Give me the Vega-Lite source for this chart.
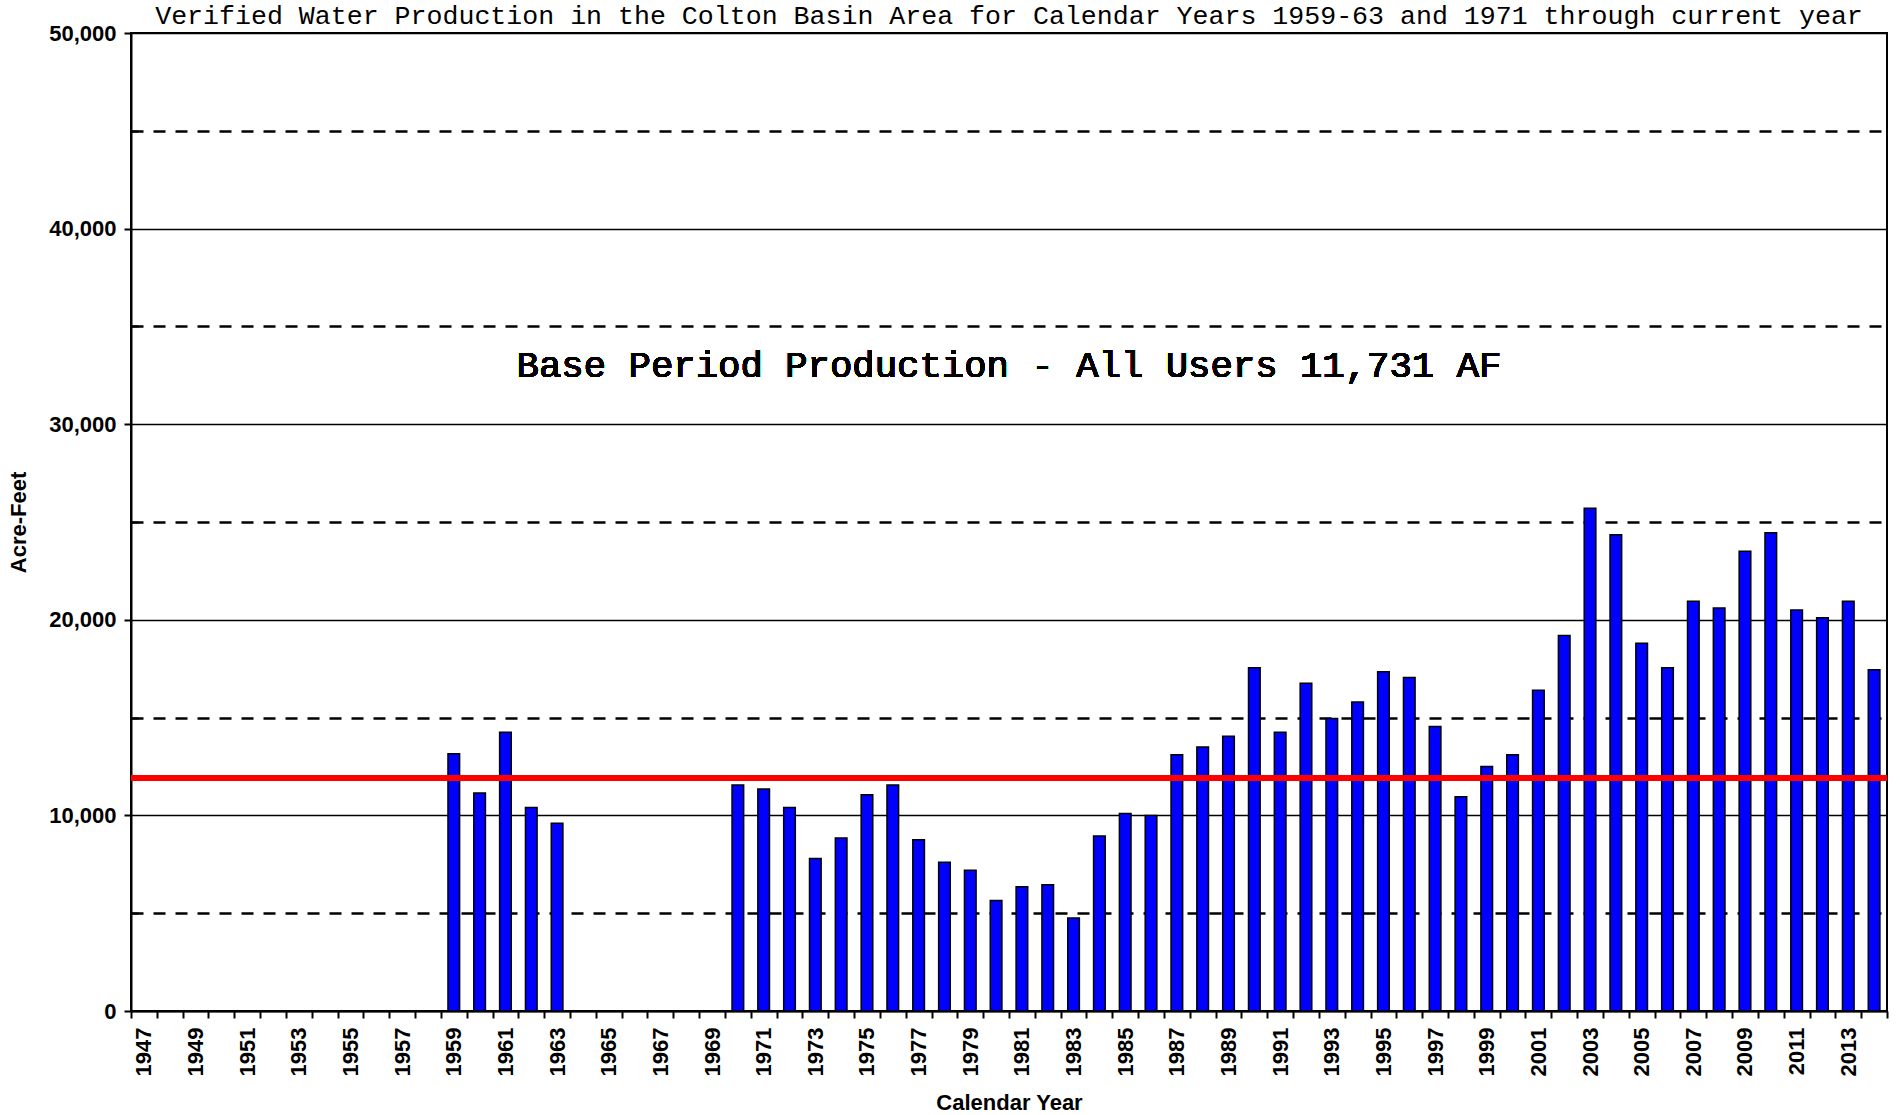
{
  "$schema": "https://vega.github.io/schema/vega-lite/v6.json",
  "autosize": {"type": "none"},
  "width": 1756,
  "height": 978,
  "padding": {"left": 131, "top": 33, "right": 13, "bottom": 104},
  "background": "white",
  "title": {
    "text": "Verified Water Production in the Colton Basin Area for Calendar Years 1959-63 and 1971 through current year",
    "font": "Liberation Mono",
    "fontSize": 26.6,
    "fontWeight": "normal",
    "color": "black",
    "anchor": "middle",
    "baseline": "alphabetic",
    "offset": 0,
    "dy": 29
  },
  "data": {
    "values": [
      {"year": 1959, "af": 13150}, {"year": 1960, "af": 11150}, {"year": 1961, "af": 14250},
      {"year": 1962, "af": 10400}, {"year": 1963, "af": 9600},
      {"year": 1970, "af": 11550}, {"year": 1971, "af": 11350}, {"year": 1972, "af": 10400},
      {"year": 1973, "af": 7800}, {"year": 1974, "af": 8850}, {"year": 1975, "af": 11050},
      {"year": 1976, "af": 11550}, {"year": 1977, "af": 8750}, {"year": 1978, "af": 7600},
      {"year": 1979, "af": 7200}, {"year": 1980, "af": 5650}, {"year": 1981, "af": 6350},
      {"year": 1982, "af": 6450}, {"year": 1983, "af": 4750}, {"year": 1984, "af": 8950},
      {"year": 1985, "af": 10100}, {"year": 1986, "af": 10000}, {"year": 1987, "af": 13100},
      {"year": 1988, "af": 13500}, {"year": 1989, "af": 14050}, {"year": 1990, "af": 17550},
      {"year": 1991, "af": 14250}, {"year": 1992, "af": 16750}, {"year": 1993, "af": 14950},
      {"year": 1994, "af": 15800}, {"year": 1995, "af": 17350}, {"year": 1996, "af": 17050},
      {"year": 1997, "af": 14550}, {"year": 1998, "af": 10950}, {"year": 1999, "af": 12500},
      {"year": 2000, "af": 13100}, {"year": 2001, "af": 16400}, {"year": 2002, "af": 19200},
      {"year": 2003, "af": 25700}, {"year": 2004, "af": 24350}, {"year": 2005, "af": 18800},
      {"year": 2006, "af": 17550}, {"year": 2007, "af": 20950}, {"year": 2008, "af": 20600},
      {"year": 2009, "af": 23500}, {"year": 2010, "af": 24450}, {"year": 2011, "af": 20500},
      {"year": 2012, "af": 20100}, {"year": 2013, "af": 20950}, {"year": 2014, "af": 17450}
    ]
  },
  "layer": [
    {
      "mark": {"type": "bar", "fill": "#0000FF", "stroke": "black", "strokeWidth": 1.5, "width": {"band": 0.45}},
      "encoding": {
        "x": {
          "field": "year",
          "type": "ordinal",
          "scale": {
            "domain": [1947,1948,1949,1950,1951,1952,1953,1954,1955,1956,1957,1958,1959,1960,1961,1962,1963,1964,1965,1966,1967,1968,1969,1970,1971,1972,1973,1974,1975,1976,1977,1978,1979,1980,1981,1982,1983,1984,1985,1986,1987,1988,1989,1990,1991,1992,1993,1994,1995,1996,1997,1998,1999,2000,2001,2002,2003,2004,2005,2006,2007,2008,2009,2010,2011,2012,2013,2014],
            "paddingInner": 0,
            "paddingOuter": 0
          },
          "axis": {
            "title": "Calendar Year",
            "titleFont": "Liberation Sans",
            "titleFontSize": 22,
            "titleFontWeight": "bold",
            "titleColor": "black",
            "titlePadding": 17,
            "labelFont": "Liberation Sans",
            "labelFontSize": 22,
            "labelFontWeight": "bold",
            "labelColor": "black",
            "labelAngle": 270,
            "labelPadding": 9,
            "labelOverlap": false,
            "labelExpr": "datum.value % 2 === 1 ? datum.label : ''",
            "tickBand": "extent",
            "tickSize": 7,
            "tickWidth": 2,
            "tickColor": "black",
            "domainColor": "black",
            "domainWidth": 2,
            "grid": false
          }
        },
        "y": {
          "field": "af",
          "type": "quantitative",
          "scale": {"domain": [0, 50000], "nice": false},
          "axis": {
            "title": "Acre-Feet",
            "titleFont": "Liberation Sans",
            "titleFontSize": 22,
            "titleFontWeight": "bold",
            "titleColor": "black",
            "titlePadding": 18,
            "values": [0,5000,10000,15000,20000,25000,30000,35000,40000,45000,50000],
            "labelExpr": "datum.value % 10000 === 0 ? format(datum.value, ',') : ''",
            "labelFont": "Liberation Sans",
            "labelFontSize": 22,
            "labelFontWeight": "bold",
            "labelColor": "black",
            "labelPadding": 8,
            "labelFlush": false,
            "labelOverlap": false,
            "tickSize": {"condition": {"test": "datum.value % 10000 === 0", "value": 7}, "value": -7},
            "tickWidth": 2,
            "tickColor": "black",
            "domainColor": "black",
            "domainWidth": 2,
            "grid": true,
            "gridColor": "black",
            "gridOpacity": 1,
            "gridWidth": {"condition": {"test": "datum.value % 10000 === 0", "value": 1.6}, "value": 2.5},
            "gridDash": {"condition": {"test": "datum.value % 10000 === 0", "value": []}, "value": [12, 10]}
          }
        }
      }
    },
    {
      "mark": {"type": "rule", "color": "#FF0000", "strokeWidth": 5},
      "encoding": {"y": {"datum": 11900}}
    },
    {
      "mark": {
        "type": "text",
        "text": "Base Period Production - All Users 11,731 AF",
        "font": "Liberation Mono",
        "fontSize": 37.3,
        "color": "black",
        "align": "center",
        "baseline": "middle"
      },
      "encoding": {"y": {"datum": 33000}}
    }
  ],
  "config": {
    "view": {"stroke": "black", "strokeWidth": 2}
  }
}
